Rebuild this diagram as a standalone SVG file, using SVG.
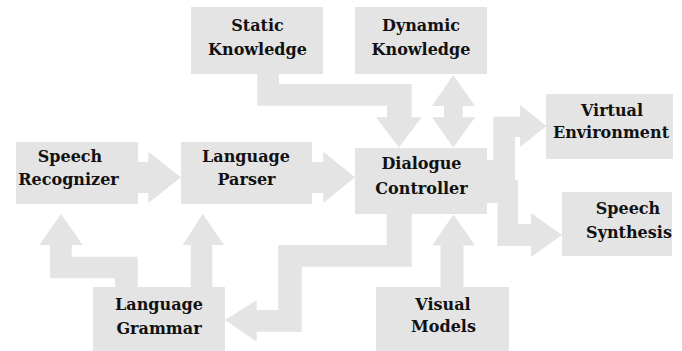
<svg xmlns="http://www.w3.org/2000/svg" width="682" height="351" viewBox="0 0 682 351">
<style>
.box{fill:#e4e4e4}
.conn polygon{fill:#e4e4e4}
text{font-family:'DejaVu Serif','Liberation Serif',serif;font-weight:bold;font-size:16px;fill:#111;text-anchor:middle}
</style>
<rect width="682" height="351" fill="#fff"/>
<g id="connectors" class="conn">
<polygon points="137,162 148.3,162 148.3,151.7 181,177.3 148.3,203 148.3,193 137,193"/>
<polygon points="311,162 323.3,162 323.3,151.7 355,177.3 323.3,203 323.3,193 311,193"/>
<polygon points="61,214 82.7,245 71.7,245 71.7,256.7 137.7,256.7 137.7,288 115,288 115,278.3 50,278.3 50,245 39.3,245"/>
<polygon points="202.7,214 224,245 212.3,245 212.3,288 190.7,288 190.7,245 182.7,245"/>
<polygon points="257.3,73 279,73 279,84 411.7,84 411.7,117.3 421.7,117.3 399,147.5 376,117.3 387,117.3 387,105.7 257.3,105.7"/>
<polygon points="453.3,75 475,106 462.7,106 462.7,117.3 475,117.3 453.3,147.5 432,117.3 444,117.3 444,106 432,106"/>
<polygon points="453.5,214.5 475,245.5 463.5,245.5 463.5,288 440.5,288 440.5,245.5 432,245.5"/>
<polygon points="386.7,213 411.7,213 411.7,266.7 301.7,266.7 301.7,331.7 256.7,331.7 256.7,341.7 225,320 256.7,300 256.7,310 278.3,310 278.3,245 386.7,245"/>
<polygon points="486,160 493.3,160 493.3,116.7 520,116.7 520,105 546.5,126 520,147 520,137 515,137 515,180 486,180"/>
<polygon points="486,180 518,180 518,224 531,224 531,213 562,235 531,257 531,246 497.5,246 497.5,203 486,203"/>
</g>
<g id="static-knowledge"><rect class="box" x="191" y="7" width="132" height="67"/><text x="257.5" y="31">Static</text><text x="257.5" y="55">Knowledge</text></g>
<g id="dynamic-knowledge"><rect class="box" x="355" y="7" width="132" height="67"/><text x="421" y="31">Dynamic</text><text x="421" y="55">Knowledge</text></g>
<g id="virtual-environment"><rect class="box" x="546" y="94" width="127" height="65"/><text x="612" y="116">Virtual</text><text x="611" y="137.5">Environment</text></g>
<g id="speech-recognizer"><rect class="box" x="16" y="142" width="122" height="62"/><text x="70" y="162">Speech</text><text x="68.5" y="185">Recognizer</text></g>
<g id="language-parser"><rect class="box" x="181" y="142" width="131" height="62"/><text x="246" y="162">Language</text><text x="246.5" y="185">Parser</text></g>
<g id="dialogue-controller"><rect class="box" x="355" y="148" width="132" height="66"/><text x="421.5" y="168.5">Dialogue</text><text x="421.5" y="193.5">Controller</text></g>
<g id="speech-synthesis"><rect class="box" x="562" y="192" width="110" height="64"/><text x="628" y="214">Speech</text><text x="629" y="238">Synthesis</text></g>
<g id="language-grammar"><rect class="box" x="93" y="287" width="132" height="64"/><text x="159" y="310">Language</text><text x="159" y="333.5">Grammar</text></g>
<g id="visual-models"><rect class="box" x="376" y="287" width="133" height="64"/><text x="443" y="310">Visual</text><text x="443.5" y="332">Models</text></g>
</svg>
